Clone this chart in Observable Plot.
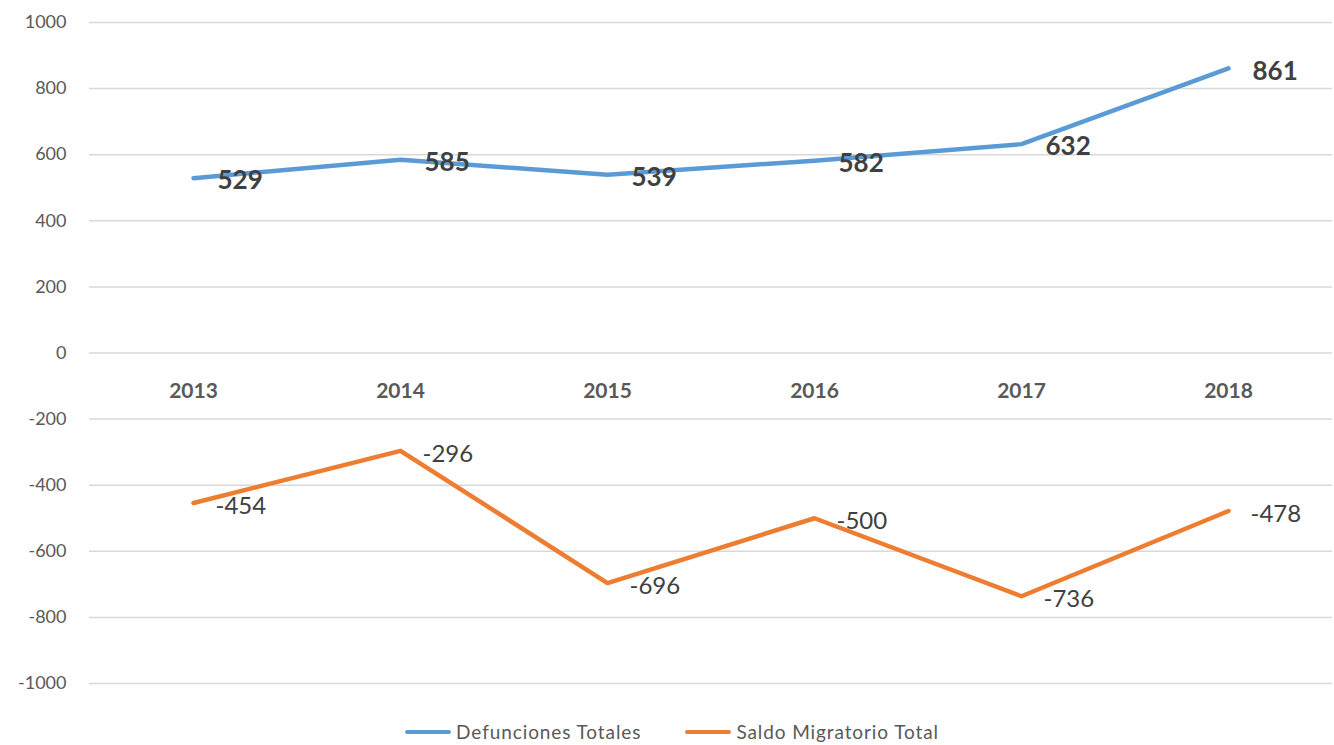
<!DOCTYPE html>
<html><head><meta charset="utf-8">
<script src="https://cdn.jsdelivr.net/npm/d3@7"></script>
<script src="https://cdn.jsdelivr.net/npm/@observablehq/plot@0.6"></script>
<style>
body{margin:0;background:#fff;font-family:Lato,"Open Sans",sans-serif;overflow:hidden}
#chart svg{display:block}
#legend{display:flex;justify-content:center;gap:44px;font-size:19px;line-height:20px;letter-spacing:0.9px;color:#595959;margin-top:22px;padding-left:10px}
.item{display:flex;align-items:center}
.sw{width:46px;height:4px;border-radius:2px;margin-right:5px}
</style></head>
<body>
<div id="chart"></div>
<div id="legend"></div>
<script>
const years = ["2013","2014","2015","2016","2017","2018"];
const defunciones = [529,585,539,582,632,861];
const saldo = [-454,-296,-696,-500,-736,-478];
const yTicks = [1000,800,600,400,200,0,-200,-400,-600,-800,-1000];
const seriesNames = ["Defunciones Totales","Saldo Migratorio Total"];
const colors = ["#5B9BD5","#ED7D31"];

const defData = years.map((y,i)=>({year:y,value:defunciones[i]}));
const salData = years.map((y,i)=>({year:y,value:saldo[i]}));

const plot = Plot.plot({
  width:1334, height:700,
  marginLeft:89, marginRight:2, marginTop:22, marginBottom:17,
  style:{fontFamily:"Lato, 'Open Sans', sans-serif", background:"#fff"},
  x:{type:"point", domain:years, padding:0.5, axis:null},
  y:{domain:[-1000,1000], axis:null},
  marks:[
    Plot.ruleY(yTicks,{stroke:"#d9d9d9",strokeWidth:1.5}),
    Plot.axisY({ticks:yTicks, tickSize:0, tickPadding:23, fontSize:18, color:"#595959", label:null, tickFormat:d=>String(d), style:{letterSpacing:"0.6px"}}),
    Plot.text(years,{x:d=>d, y:()=>0, dy:38, text:d=>d, fontSize:21, fontWeight:"bold", fill:"#595959", style:{letterSpacing:"1px"}}),
    Plot.line(defData,{x:"year",y:"value",stroke:colors[0],strokeWidth:4.5}),
    Plot.line(salData,{x:"year",y:"value",stroke:colors[1],strokeWidth:4.5}),
    Plot.text(defData,{x:"year",y:"value",text:d=>String(d.value),textAnchor:"start",dx:24,dy:3,fontSize:26,fontWeight:"bold",fill:"#404040"}),
    Plot.text(salData,{x:"year",y:"value",text:d=>String(d.value),textAnchor:"start",dx:22,dy:3,fontSize:24,fill:"#404040"})
  ]
});
document.getElementById("chart").appendChild(plot);
const lg = document.getElementById("legend");
seriesNames.forEach((n,i)=>{
  const it=document.createElement("div");it.className="item";
  it.innerHTML=`<span class="sw" style="background:${colors[i]}"></span><span>${n}</span>`;
  lg.appendChild(it);
});
</script>
</body></html>
